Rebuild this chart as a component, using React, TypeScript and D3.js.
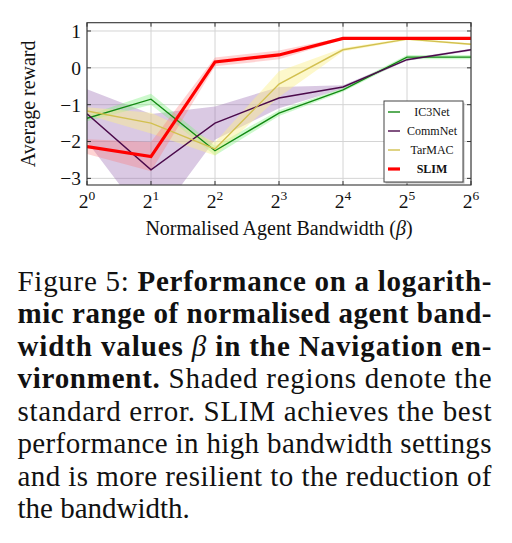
import React from "react";
import * as d3 from "d3";

// Bandwidth exponents (beta = 2^k)
const bandwidthExp = [0, 1, 2, 3, 4, 5, 6];
const yTicks = [-3, -2, -1, 0, 1];

// Mean reward per method
const ic3net = [-1.37, -0.85, -2.25, -1.23, -0.6, 0.29, 0.29];
const ic3netErr = [0.08, 0.15, 0.13, 0.08, 0.05, 0.06, 0.06];

const commnet = [-1.25, -2.77, -1.5, -0.82, -0.52, 0.22, 0.49];
const commnetHi = [-0.58, -1.25, -1.05, -0.52, -0.47, 0.25, 0.52];
const commnetLo = [-2.0, -4.3, -1.95, -1.1, -0.57, 0.19, 0.46];

const tarmac = [-1.17, -1.5, -2.2, -0.44, 0.49, 0.78, 0.64];
const tarmacErr = [0.1, 0.28, 0.18, 0.35, 0.05, 0.03, 0.03];

const slim = [-2.14, -2.41, 0.16, 0.35, 0.8, 0.8, 0.8];
const slimErr = [0.2, 0.4, 0.12, 0.12, 0.03, 0.03, 0.03];

const legendNames = ["IC3Net", "CommNet", "TarMAC", "SLIM"];

type Seg = { t: string; b?: boolean; i?: boolean };
const captionLines: Seg[][] = [
  [{ t: "Figure 5: " }, { t: "Performance on a logarith-", b: true }],
  [{ t: "mic range of normalised agent band-", b: true }],
  [{ t: "width values ", b: true }, { t: "β", i: true }, { t: " in the Navigation en-", b: true }],
  [{ t: "vironment.", b: true }, { t: " Shaded regions denote the" }],
  [{ t: "standard error. SLIM achieves the best" }],
  [{ t: "performance in high bandwidth settings" }],
  [{ t: "and is more resilient to the reduction of" }],
  [{ t: "the bandwidth." }],
];

const W = 512;
const H = 543;
const plot = { left: 87, right: 471, top: 22.7, bottom: 185 };

const serif = "'Liberation Serif', 'Times New Roman', serif";

export default function App() {
  const x = d3.scaleLinear().domain([0, 6]).range([plot.left, plot.right]);
  const y = d3.scaleLinear().domain([-3.18, 1.225]).range([plot.bottom, plot.top]);

  const line = d3
    .line<number>()
    .x((_, i) => x(bandwidthExp[i]))
    .y((d) => y(d));

  const band = (lo: number[], hi: number[]) =>
    d3
      .area<number>()
      .x((_, i) => x(bandwidthExp[i]))
      .y0((_, i) => y(lo[i]))
      .y1((_, i) => y(hi[i]))(bandwidthExp) as string;

  const sym = (m: number[], e: number[]) =>
    band(
      m.map((v, i) => v - e[i]),
      m.map((v, i) => v + e[i])
    );

  const series = [
    { name: "IC3Net", data: ic3net, color: "#138a13", w: 1.4 },
    { name: "CommNet", data: commnet, color: "#4b0a4b", w: 1.4 },
    { name: "TarMAC", data: tarmac, color: "#d2c050", w: 1.4 },
    { name: "SLIM", data: slim, color: "#ff0000", w: 3.2 },
  ];

  const lx = 384;
  const ly = 101;
  const lw = 79;
  const lh = 81;

  return (
    <svg
      width={W}
      height={H}
      style={{ position: "absolute", left: 0, top: 0, background: "#fff" }}
      fontFamily={serif}
    >
      <defs>
        <clipPath id="plotClip">
          <rect
            x={plot.left}
            y={plot.top}
            width={plot.right - plot.left}
            height={plot.bottom - plot.top}
          />
        </clipPath>
      </defs>

      {/* grid */}
      {bandwidthExp.map((k) => (
        <line
          key={"gx" + k}
          x1={x(k)}
          x2={x(k)}
          y1={plot.top}
          y2={plot.bottom}
          stroke="#d4d4d4"
          strokeWidth={1}
        />
      ))}
      {yTicks.map((v) => (
        <line
          key={"gy" + v}
          x1={plot.left}
          x2={plot.right}
          y1={y(v)}
          y2={y(v)}
          stroke="#d4d4d4"
          strokeWidth={1}
        />
      ))}

      {/* shaded standard error */}
      <g clipPath="url(#plotClip)">
        <path d={band(commnetLo, commnetHi)} fill="rgb(150,100,175)" fillOpacity={0.35} />
        <path d={sym(ic3net, ic3netErr)} fill="rgb(130,240,130)" fillOpacity={0.4} />
        <path d={sym(tarmac, tarmacErr)} fill="rgb(250,240,140)" fillOpacity={0.45} />
        <path d={sym(slim, slimErr)} fill="rgb(255,110,110)" fillOpacity={0.3} />
        {series.map((s) => (
          <path
            key={s.name}
            d={line(s.data) as string}
            fill="none"
            stroke={s.color}
            strokeWidth={s.w}
            strokeLinejoin="miter"
          />
        ))}
      </g>

      {/* ticks */}
      {yTicks.map((v) => (
        <g key={"ty" + v}>
          <line x1={plot.left} x2={plot.left + 4} y1={y(v)} y2={y(v)} stroke="#333" />
          <line x1={plot.right - 4} x2={plot.right} y1={y(v)} y2={y(v)} stroke="#333" />
        </g>
      ))}
      {bandwidthExp.map((k) => (
        <g key={"tx" + k}>
          <line x1={x(k)} x2={x(k)} y1={plot.bottom} y2={plot.bottom - 4} stroke="#333" />
          <line x1={x(k)} x2={x(k)} y1={plot.top} y2={plot.top + 4} stroke="#333" />
        </g>
      ))}

      {/* frame */}
      <rect
        x={plot.left}
        y={plot.top}
        width={plot.right - plot.left}
        height={plot.bottom - plot.top}
        fill="none"
        stroke="#333"
        strokeWidth={1.1}
      />

      {/* y tick labels */}
      {yTicks.map((v) => (
        <text
          key={"ly" + v}
          x={plot.left - 6}
          y={y(v)}
          dy="0.35em"
          textAnchor="end"
          fontSize={19.5}
          fill="#111"
        >
          {v < 0 ? "\u2212" + Math.abs(v) : String(v)}
        </text>
      ))}

      {/* x tick labels */}
      {bandwidthExp.map((k) => (
        <text key={"lx" + k} x={x(k)} y={208} textAnchor="middle" fontSize={19.5} fill="#111">
          2
          <tspan fontSize={13.5} dy={-8}>
            {k}
          </tspan>
        </text>
      ))}

      {/* axis titles */}
      <text
        x={(plot.left + plot.right) / 2}
        y={235}
        textAnchor="middle"
        fontSize={20}
        fill="#111"
      >
        Normalised Agent Bandwidth (<tspan fontStyle="italic">β</tspan>)
      </text>
      <text
        transform={`translate(35,${(plot.top + plot.bottom) / 2}) rotate(-90)`}
        textAnchor="middle"
        fontSize={20}
        fill="#111"
      >
        Average reward
      </text>

      {/* legend */}
      <rect x={lx + 1.5} y={ly + 1.5} width={lw} height={lh} fill="#bbb" />
      <rect x={lx} y={ly} width={lw} height={lh} fill="#fff" stroke="#444" strokeWidth={1} />
      {series.map((s, i) => {
        const yy = ly + 11 + i * 19;
        return (
          <g key={"lg" + s.name}>
            <line x1={lx + 4} x2={lx + 16} y1={yy} y2={yy} stroke={s.color} strokeWidth={s.w} />
            <text
              x={lx + 48}
              y={yy}
              dy="0.35em"
              textAnchor="middle"
              fontSize={12}
              fontWeight={legendNames[i] === "SLIM" ? "bold" : "normal"}
              fill="#111"
            >
              {legendNames[i]}
            </text>
          </g>
        );
      })}

      {/* caption */}
      {captionLines.map((segs, li) => (
        <text
          key={"cap" + li}
          x={17.5}
          y={290.5 + li * 32.5}
          fontSize={29}
          fill="#111"
          textLength={li < captionLines.length - 1 ? 474 : undefined}
          lengthAdjust="spacing"
        >
          {segs.map((s, si) => (
            <tspan
              key={si}
              fontWeight={s.b ? "bold" : "normal"}
              fontStyle={s.i ? "italic" : "normal"}
            >
              {s.t}
            </tspan>
          ))}
        </text>
      ))}
    </svg>
  );
}
